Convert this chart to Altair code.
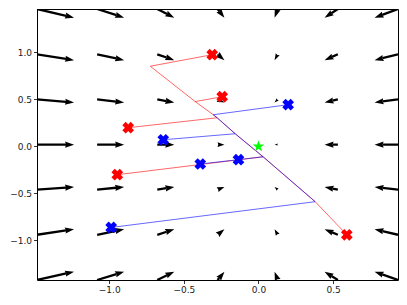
import math
import altair as alt
import pandas as pd

# ---------------- data ----------------
X_DOMAIN = [-1.484, 0.935]
Y_DOMAIN = [-1.421, 1.462]
X_TICKS = [-1.0, -0.5, 0.0, 0.5]
Y_TICKS = [-1.0, -0.5, 0.0, 0.5, 1.0]

# quiver grid (tails) and arrow components (data units, already scaled)
GRID_X = [-1.484, -1.081, -0.678, -0.274, 0.129, 0.532, 0.935]
GRID_Y = [1.462, 0.980, 0.500, 0.020, -0.460, -0.940, -1.421]
U_COL = [0.2485, 0.181, 0.114, 0.046, -0.021, -0.089, -0.157]
V_ROW = [-0.092, -0.062, -0.032, -0.001, 0.029, 0.059, 0.089]

# trajectories
R1_X = [-0.310, -0.725, -0.424, -0.303, -0.277, -0.156, 0.031, 0.380, 0.592]
R1_Y = [0.976, 0.853, 0.477, 0.337, 0.305, 0.135, -0.110, -0.588, -0.940]
R2_X = [-0.243, -0.424]
R2_Y = [0.529, 0.477]
R3_X = [-0.873, -0.277]
R3_Y = [0.199, 0.305]
R4_X = [-0.946, 0.031]
R4_Y = [-0.301, -0.110]
B1_X = [0.199, -0.303, -0.277, -0.156, 0.031, 0.380, -0.987]
B1_Y = [0.444, 0.337, 0.305, 0.135, -0.110, -0.588, -0.862]
B2_X = [-0.638, -0.156]
B2_Y = [0.071, 0.135]
B3_X = [-0.390, -0.134, 0.031]
B3_Y = [-0.187, -0.141, -0.110]

# markers
RED_X = [-0.310, -0.243, -0.873, -0.946, 0.592]
RED_Y = [0.976, 0.529, 0.199, -0.301, -0.940]
BLUE_X = [0.199, -0.638, -0.390, -0.134, -0.987]
BLUE_Y = [0.444, 0.071, -0.187, -0.141, -0.862]
STAR_X = [0.0]
STAR_Y = [0.0]

# ---------------- layout ----------------
W, H = 361, 271
SX = W / (X_DOMAIN[1] - X_DOMAIN[0])
SY = H / (Y_DOMAIN[1] - Y_DOMAIN[0])
HEAD_LEN = 9.0
HEAD_AXIS = 8.1
HEAD_PATH = "M0,0L-0.34,1L0,0.9L0.34,1Z"
BASE_SIZE = (HEAD_LEN * 2) ** 2

shafts, heads = [], []
for i, gx in enumerate(GRID_X):
    for j, gy in enumerate(GRID_Y):
        u, v = U_COL[i], V_ROW[j]
        upx, vpx = u * SX, v * SY
        L = math.hypot(upx, vpx)
        ang = (math.degrees(math.atan2(upx, vpx)) + 360) % 360
        if L >= HEAD_LEN:
            f = (L - HEAD_AXIS) / L
            shafts.append({"x": gx, "y": gy, "x2": gx + u * f, "y2": gy + v * f})
            sz = BASE_SIZE
        else:
            sz = BASE_SIZE * (L / HEAD_LEN) ** 2
        heads.append({"x": gx + u, "y": gy + v, "ang": ang, "sz": sz})

shaft_df = pd.DataFrame(shafts)
head_df = pd.DataFrame(heads)

def line_rows(name, color, xs, ys):
    return [{"id": name, "c": color, "i": k, "x": a, "y": b} for k, (a, b) in enumerate(zip(xs, ys))]

red_lines = pd.DataFrame(
    line_rows("R1", "red", R1_X, R1_Y) + line_rows("R2", "red", R2_X, R2_Y)
    + line_rows("R3", "red", R3_X, R3_Y) + line_rows("R4", "red", R4_X, R4_Y)
)
blue_lines = pd.DataFrame(
    line_rows("B1", "blue", B1_X, B1_Y) + line_rows("B2", "blue", B2_X, B2_Y)
    + line_rows("B3", "blue", B3_X, B3_Y)
)
markers = pd.DataFrame(
    [{"x": a, "y": b, "c": "red"} for a, b in zip(RED_X, RED_Y)]
    + [{"x": a, "y": b, "c": "blue"} for a, b in zip(BLUE_X, BLUE_Y)]
)
star = pd.DataFrame({"x": STAR_X, "y": STAR_Y})

def star_path(n=5, inner=0.382):
    pts = []
    for k in range(2 * n):
        r = 1.0 if k % 2 == 0 else inner
        a = math.radians(-90 + k * 180 / n)
        pts.append(f"{r * math.cos(a):.4f},{r * math.sin(a):.4f}")
    return "M" + "L".join(pts) + "Z"

axis_common = dict(title=None, grid=False, domain=False, format=".1f",
                   tickColor="black", tickSize=3.5, tickWidth=0.8,
                   labelFont="DejaVu Sans", labelFontSize=9, labelColor="#222222",
                   labelPadding=2)
xs = alt.Scale(domain=X_DOMAIN, zero=False, nice=False)
ys = alt.Scale(domain=Y_DOMAIN, zero=False, nice=False)
X = alt.X("x:Q", scale=xs, axis=alt.Axis(values=X_TICKS, **axis_common))
Y = alt.Y("y:Q", scale=ys, axis=alt.Axis(values=Y_TICKS, **axis_common))
color_scale = alt.Scale(domain=["red", "blue"], range=["#ff0000", "#0000ff"])

shaft_layer = alt.Chart(shaft_df).mark_rule(color="black", strokeWidth=2.3, clip=True).encode(
    x=X, y=Y, x2="x2:Q", y2="y2:Q")
head_layer = alt.Chart(head_df).mark_point(
    shape=HEAD_PATH, filled=True, color="black", strokeWidth=0, opacity=1, clip=True
).encode(x=X, y=Y, angle=alt.Angle("ang:Q", scale=None), size=alt.Size("sz:Q", scale=None))

red_layer = alt.Chart(red_lines).mark_line(strokeWidth=0.8, opacity=0.75, strokeJoin="round").encode(
    x=X, y=Y, detail="id:N", order="i:Q",
    color=alt.Color("c:N", scale=color_scale, legend=None))
blue_layer = alt.Chart(blue_lines).mark_line(strokeWidth=0.8, opacity=0.75, strokeJoin="round").encode(
    x=X, y=Y, detail="id:N", order="i:Q",
    color=alt.Color("c:N", scale=color_scale, legend=None))

marker_layer = alt.Chart(markers).mark_point(
    shape="cross", angle=45, filled=True, size=140, opacity=1, strokeWidth=0
).encode(x=X, y=Y, color=alt.Color("c:N", scale=color_scale, legend=None))

star_layer = alt.Chart(star).mark_point(
    shape=star_path(), filled=True, color="#00ff00", size=150, opacity=1, strokeWidth=0
).encode(x=X, y=Y)

chart = alt.layer(
    shaft_layer, head_layer, red_layer, blue_layer, marker_layer, star_layer
).properties(
    width=W, height=H,
    autosize=alt.AutoSizeParams(type="none"),
    padding={"left": 29, "top": 1, "right": 1, "bottom": 16},
).configure_view(stroke="black", strokeWidth=1)

chart.save("out.html", embed_options={"renderer": "svg", "actions": False})
